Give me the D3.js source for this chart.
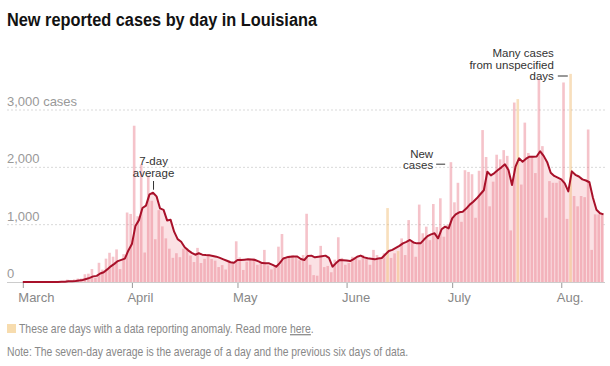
<!DOCTYPE html>
<html>
<head>
<meta charset="utf-8">
<script src="https://cdn.jsdelivr.net/npm/d3@7"></script>
<style>
  body { margin: 0; background: #fff; }
  svg text { font-family: "Liberation Sans", Arial, sans-serif; }
  .title { font-weight: bold; font-size: 18px; fill: #121212; }
  .y-label { font-size: 13px; fill: #999; }
  .x-label { font-size: 13px; fill: #888; }
  .note { font-size: 12.5px; fill: #888; }
  .anno { font-size: 11.5px; fill: #333; }
</style>
</head>
<body>
<div class="vis-cases"></div>
<script>
// daily data, one value per day starting at startDate
const startDate = "2020-03-01";
const cases = [
  0, 0, 0, 0, 0, 0, 0, 0, 1, 5,
  7, 6, 17, 41, 14, 45, 60, 61, 135, 145,
  226, 74, 335, 216, 407, 510, 441, 569, 225, 485,
  1212, 1187, 2726, 1147, 2050, 514, 1857, 1417, 746, 1253,
  970, 761, 581, 421, 502, 433, 581, 586, 462, 348,
  595, 331, 404, 481, 401, 372, 261, 295, 218, 374,
  341, 710, 429, 210, 355, 400, 420, 300, 350, 560,
  290, 220, 260, 616, 837, 430, 460, 470, 440, 380,
  470, 1190, 300, 120, 110, 630, 260, 280, 170, 390,
  780, 420, 300, 330, 440, 420, 380, 470, 400, 300,
  560, 470, 400, 500, 1290, 420, 500, 540, 760, 470,
  1080, 700, 440, 1350, 850, 965, 730, 1360, 960, 1460,
  790, 1000, 2090, 1390, 1730, 1050, 1950, 1920, 1880, 1120,
  1940, 2650, 2180, 1320, 1750, 2220, 2140, 2300, 2200, 900,
  3130, 3190, 1700, 2780, 2250, 2200, 1900, 3550, 2370, 1120,
  1760, 1730, 1730, 1770, 3480, 1100, 3630, 1500, 1320, 1500,
  1480, 2660, 560, 1180, 1180, 1170
];
const avg = [
  0, 0, 0, 0, 0, 0, 0, 0, 0, 1,
  2, 3, 5, 11, 13, 19, 27, 35, 53, 72,
  98, 107, 148, 170, 220, 273, 316, 365, 386, 408,
  550, 661, 978, 1079, 1290, 1332, 1528, 1557, 1494, 1283,
  1258, 1074, 1084, 878, 748, 703, 607, 552, 509, 476,
  501, 477, 470, 465, 455, 442, 420, 395, 370, 345,
  337, 384, 384, 390, 395, 392, 384, 360, 330, 326,
  326, 300, 267, 330, 410, 430, 440, 445, 445, 400,
  384, 455, 460, 430, 440, 450, 460, 420, 267, 330,
  384, 380, 375, 366, 400, 440, 460, 430, 413, 405,
  395, 410, 420, 480, 540, 560, 595, 630, 674, 700,
  733, 690, 674, 674, 740, 800, 830, 849, 762, 920,
  965, 936, 1110, 1180, 1215, 1227, 1280, 1350, 1400, 1460,
  1530, 1600, 1924, 1860, 1900, 1953, 2000, 2052, 1953, 1692,
  2012, 2157, 2099, 2150, 2186, 2186, 2190, 2280, 2200, 2090,
  1906, 1850, 1820, 1791, 1721, 1580, 1930, 1870, 1840, 1790,
  1770, 1740, 1470, 1260, 1200, 1180
];
const anomalyDates = ["2020-06-13", "2020-06-16", "2020-07-20", "2020-08-04"];
const monthTicks = ["2020-03-01", "2020-04-01", "2020-05-01", "2020-06-01", "2020-07-01", "2020-08-01"];
const monthLabels = ["March", "April", "May", "June", "July", "Aug."];
const yTicks = [0, 1000, 2000, 3000];

const draw = () => {
  const width = 610, height = 366;
  const parse = d3.timeParse("%Y-%m-%d");
  const start = parse(startDate);
  const anomalies = new Set(anomalyDates.map((s) => +parse(s)));
  const data = cases.map((v, i) => ({
    date: d3.timeDay.offset(start, i),
    value: v,
    avg: avg[i]
  }));

  const svg = d3.select(".vis-cases").append("svg")
    .attr("width", width).attr("height", height);

  const x = d3.scaleTime()
    .domain([start, data[data.length - 1].date])
    .range([23.3, 604]);
  const y = d3.scaleLinear().domain([0, 3000]).range([282, 110]);

  // title (condensed to the width of the original's narrower font)
  svg.append("text").attr("class", "title")
    .attr("x", 7).attr("y", 26)
    .attr("textLength", 310).attr("lengthAdjust", "spacingAndGlyphs")
    .text("New reported cases by day in Louisiana");

  // grid
  svg.append("g").selectAll("line")
    .data(yTicks.filter((d) => d > 0))
    .enter().append("line")
    .attr("x1", 7).attr("x2", 605)
    .attr("y1", (d) => y(d)).attr("y2", (d) => y(d))
    .attr("stroke", "#d9d9d9")
    .attr("stroke-dasharray", "2,2");

  svg.append("g").selectAll("text")
    .data(yTicks)
    .enter().append("text")
    .attr("class", "y-label")
    .attr("x", 7)
    .attr("y", (d) => y(d) - 4)
    .text((d) => d3.format(",")(d) + (d === 3000 ? " cases" : ""));

  // 7-day average area
  const area = d3.area()
    .x((d) => x(d.date) - 0.5)
    .y0(y(0))
    .y1((d) => y(d.avg));
  svg.append("path").datum(data)
    .attr("d", area)
    .attr("fill", "#fbe1e4");

  // bars
  svg.append("g").selectAll("rect")
    .data(data)
    .enter().append("rect")
    .attr("x", (d) => x(d3.timeDay.offset(d.date, -1)) + 0.45)
    .attr("width", (d) => x(d.date) - x(d3.timeDay.offset(d.date, -1)) - 0.9)
    .attr("y", (d) => y(d.value))
    .attr("height", (d) => y(0) - y(d.value))
    .attr("fill", (d) => anomalies.has(+d.date) ? "#f0b76a" : "#e8798a")
    .attr("fill-opacity", 0.45);

  // baseline
  svg.append("line")
    .attr("x1", 7).attr("x2", 605)
    .attr("y1", y(0) + 0.5).attr("y2", y(0) + 0.5)
    .attr("stroke", "#ccc");

  // 7-day average line
  const line = d3.line()
    .x((d) => x(d.date) - 0.5)
    .y((d) => y(d.avg));
  svg.append("path").datum(data)
    .attr("d", line)
    .attr("fill", "none")
    .attr("stroke", "#a8112a")
    .attr("stroke-width", 2)
    .attr("stroke-linejoin", "round");

  // x axis
  const months = monthTicks.map(parse);
  const xg = svg.append("g");
  xg.selectAll("line").data(months).enter().append("line")
    .attr("x1", (d) => x(d)).attr("x2", (d) => x(d))
    .attr("y1", y(0) + 1).attr("y2", y(0) + 6)
    .attr("stroke", "#999");
  xg.selectAll("text").data(months).enter().append("text")
    .attr("class", "x-label")
    .attr("x", (d) => x(d) - 5)
    .attr("y", 302)
    .text((d, i) => monthLabels[i]);

  // annotations
  const peak = data[37];
  const a1 = svg.append("g").attr("class", "anno").attr("text-anchor", "middle");
  a1.append("text").attr("x", x(peak.date)).attr("y", 165).text("7-day");
  a1.append("text").attr("x", x(peak.date)).attr("y", 176.5).text("average");
  svg.append("line")
    .attr("x1", x(peak.date)).attr("x2", x(peak.date))
    .attr("y1", 181).attr("y2", y(peak.avg) - 3)
    .attr("stroke", "#333");

  const nc = data[122];
  const nx = x(d3.timeDay.offset(nc.date, -1)) - 4;
  const a2 = svg.append("g").attr("class", "anno").attr("text-anchor", "end");
  a2.append("text").attr("x", nx - 12).attr("y", 157.5).text("New");
  a2.append("text").attr("x", nx - 12).attr("y", 168.5).text("cases");
  svg.append("line")
    .attr("x1", nx - 9).attr("x2", nx)
    .attr("y1", y(nc.value) + 2).attr("y2", y(nc.value) + 2)
    .attr("stroke", "#333");

  const mc = data[156];
  const mx = x(d3.timeDay.offset(mc.date, -1)) - 1;
  const a3 = svg.append("g").attr("class", "anno").attr("text-anchor", "end");
  a3.append("text").attr("x", mx - 14).attr("y", 57).text("Many cases");
  a3.append("text").attr("x", mx - 14).attr("y", 68.5).text("from unspecified");
  a3.append("text").attr("x", mx - 14).attr("y", 80).text("days");
  svg.append("line")
    .attr("x1", mx - 10).attr("x2", mx)
    .attr("y1", 76).attr("y2", 76)
    .attr("stroke", "#333");

  // legend and note (horizontally condensed like the original's font)
  svg.append("rect")
    .attr("x", 7).attr("y", 324).attr("width", 9).attr("height", 9)
    .attr("fill", "#f7dcae");
  const lg = svg.append("g").attr("transform", "translate(19,333) scale(0.835,1)")
    .append("text").attr("class", "note");
  lg.append("tspan").text("These are days with a data reporting anomaly. Read more ");
  lg.append("tspan").attr("text-decoration", "underline").text("here");
  lg.append("tspan").text(".");

  svg.append("g").attr("transform", "translate(7,356) scale(0.83,1)")
    .append("text").attr("class", "note")
    .text("Note: The seven-day average is the average of a day and the previous six days of data.");
};

draw();
</script>
</body>
</html>
